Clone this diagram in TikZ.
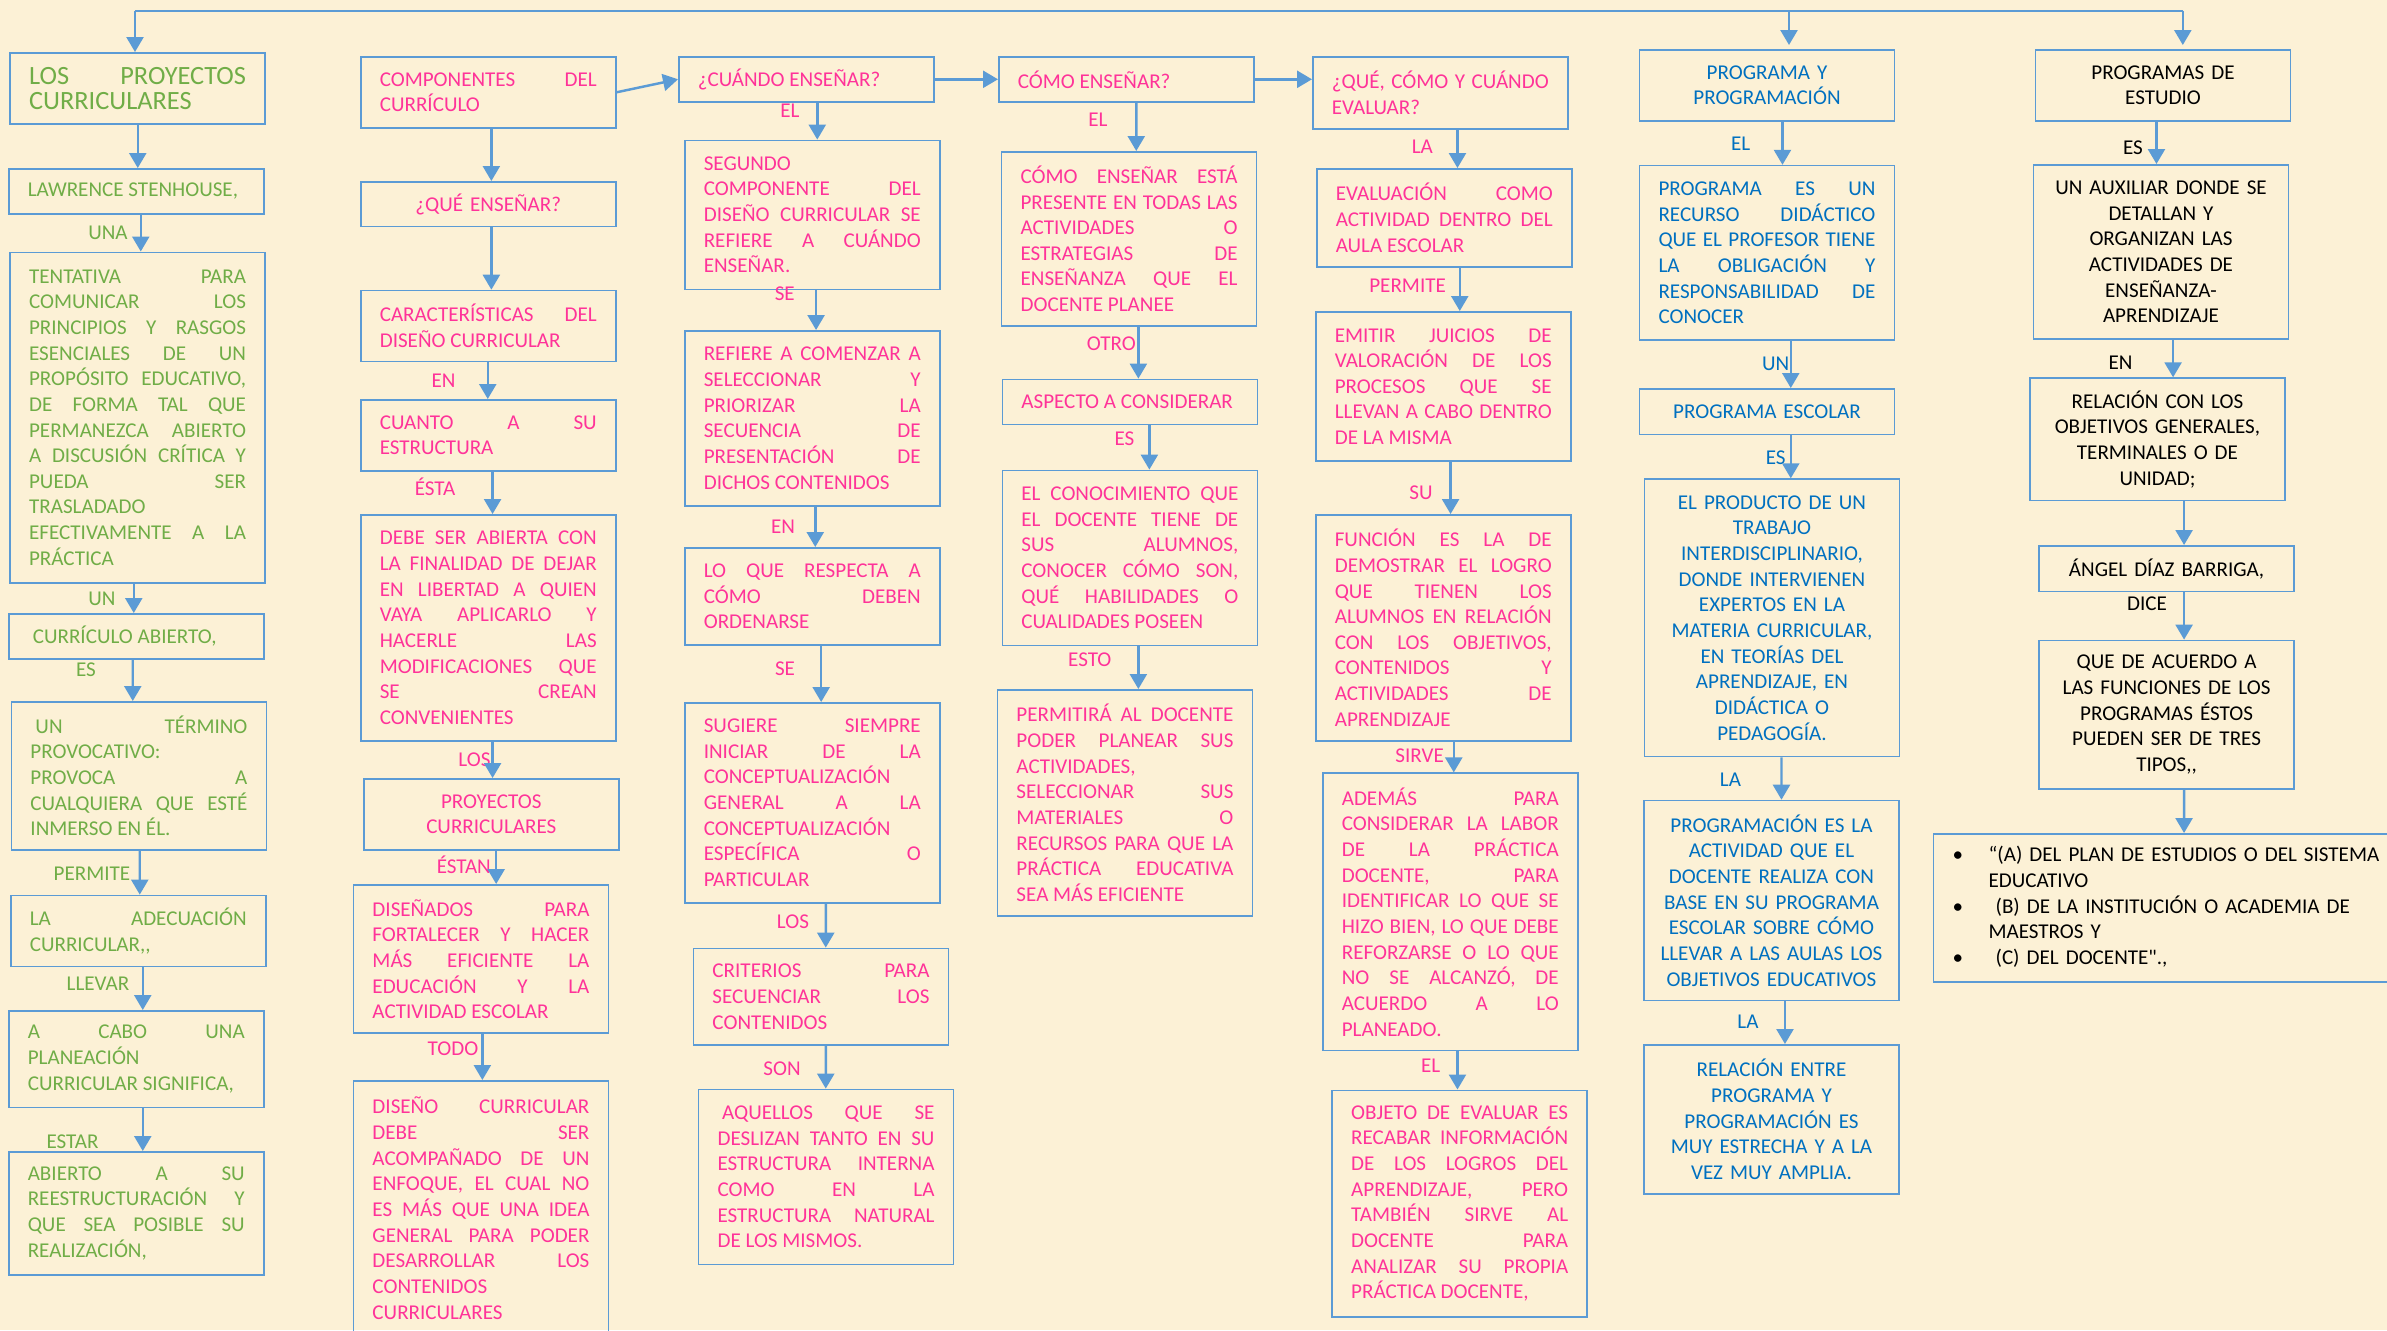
\documentclass[tikz,border=0pt]{standalone}
\usepackage{fontspec}
\setmainfont{Carlito}
\newfontfamily\rawfont[Ligatures=TeXOff]{Carlito}
\usetikzlibrary{arrows.meta,calc}
\definecolor{boxblue}{HTML}{5B9BD5}
\definecolor{txtgreen}{HTML}{70AD47}
\definecolor{txtpink}{HTML}{FF3399}
\definecolor{txtblue}{HTML}{0070C0}
\definecolor{paper}{HTML}{FCF1D6}
\newcommand\mapfont{\fontsize{12}{14.6}\selectfont\hyphenpenalty=10000 \tolerance=10000 }
\newcommand\boxtitlefont{\fontsize{15}{14.5}\selectfont\hyphenpenalty=10000 \tolerance=10000 }
\begin{document}
\begin{tikzpicture}
[x=0.02cm,y=-0.02cm,%
  box/.style={draw=boxblue,line width=0.9pt,anchor=north west,inner xsep=0.38cm,inner ysep=0pt,text width=4.34cm,align=justify,font=\mapfont},%
  gbox/.style={box,text=txtgreen},%
  pbox/.style={box,text=txtpink},%
  bbox/.style={box,text=txtblue,align=center},%
  kbox/.style={box,text=black,align=center},%
  lbl/.style={font=\mapfont,inner sep=0pt,text height=8pt,text depth=0pt},%
  glbl/.style={lbl,text=txtgreen},%
  plbl/.style={lbl,text=txtpink},%
  blbl/.style={lbl,text=txtblue},%
  klbl/.style={lbl,text=black},%
  arr/.style={boxblue,line width=1.4pt,-{Triangle[width=0.34cm,length=0.3cm]}},%
  busline/.style={boxblue,line width=0.8pt}]
\useasboundingbox (0,0) rectangle (2387,1330);
\clip (0,0) rectangle (2387,1330);
\fill[paper] (0,0) rectangle (2387,1330);

\node[gbox,font=\boxtitlefont,minimum height=1.42cm] (a1) at (9.3,52) {LOS PROYECTOS\linebreak CURRICULARES};
\node[gbox,minimum height=0.9cm] (a2) at (8,168) {LAWRENCE STENHOUSE,};
\node[gbox,minimum height=6.61cm] (a3) at (9.3,251.5) {TENTATIVA PARA\linebreak COMUNICAR LOS\linebreak PRINCIPIOS Y RASGOS\linebreak ESENCIALES DE UN\linebreak PROPÓSITO EDUCATIVO,\linebreak DE FORMA TAL QUE\linebreak PERMANEZCA ABIERTO\linebreak A DISCUSIÓN CRÍTICA Y\linebreak PUEDA SER\linebreak TRASLADADO\linebreak EFECTIVAMENTE A LA\linebreak PRÁCTICA};
\node[gbox,minimum height=0.9cm] (a4) at (8,613) {\hspace*{0.1cm}CURRÍCULO ABIERTO,};
\node[gbox,minimum height=2.96cm] (a5) at (10.7,701) {\hspace*{0.1cm}UN TÉRMINO\linebreak PROVOCATIVO:\linebreak PROVOCA A\linebreak CUALQUIERA QUE ESTÉ\linebreak INMERSO EN ÉL.};
\node[gbox,minimum height=1.42cm] (a6) at (10,894.6) {LA ADECUACIÓN\linebreak CURRICULAR,\kern0pt,};
\node[gbox,minimum height=1.93cm] (a7) at (8,1010) {A CABO UNA\linebreak PLANEACIÓN\linebreak CURRICULAR SIGNIFICA,};
\node[gbox,minimum height=2.46cm] (a8) at (8,1151) {ABIERTO A SU\linebreak REESTRUCTURACIÓN Y\linebreak QUE SEA POSIBLE SU\linebreak REALIZACIÓN,};

\node[pbox,minimum height=1.42cm] (b1) at (360,56) {COMPONENTES DEL\linebreak CURRÍCULO};
\node[pbox,align=center,minimum height=0.89cm] (b2) at (360,181) {¿QUÉ ENSEÑAR?};
\node[pbox,minimum height=1.42cm] (b3) at (360,289.7) {CARACTERÍSTICAS DEL\linebreak DISEÑO CURRICULAR};
\node[pbox,minimum height=1.42cm] (b4) at (360,399) {CUANTO A SU\linebreak ESTRUCTURA};
\node[pbox,minimum height=4.52cm] (b5) at (360,514) {DEBE SER ABIERTA CON\linebreak LA FINALIDAD DE DEJAR\linebreak EN LIBERTAD A QUIEN\linebreak VAYA APLICARLO Y\linebreak HACERLE LAS\linebreak MODIFICACIONES QUE\linebreak SE CREAN\linebreak CONVENIENTES};
\node[pbox,align=center,minimum height=1.42cm] (b6) at (363,778) {PROYECTOS\\ CURRICULARES};
\node[pbox,minimum height=2.97cm] (b7) at (352.7,884) {DISEÑADOS PARA\linebreak FORTALECER Y HACER\linebreak MÁS EFICIENTE LA\linebreak EDUCACIÓN Y LA\linebreak ACTIVIDAD ESCOLAR};
\node[pbox,minimum height=5.1cm] (b8) at (352.7,1080) {DISEÑO CURRICULAR\linebreak DEBE SER\linebreak ACOMPAÑADO DE UN\linebreak ENFOQUE, EL CUAL NO\linebreak ES MÁS QUE UNA IDEA\linebreak GENERAL PARA PODER\linebreak DESARROLLAR LOS\linebreak CONTENIDOS\linebreak CURRICULARES};

\node[pbox,minimum height=0.9cm] (c1) at (678,56) {¿CUÁNDO ENSEÑAR?};
\node[pbox,minimum height=2.98cm] (c2) at (684,139.6) {SEGUNDO\linebreak COMPONENTE DEL\linebreak DISEÑO CURRICULAR SE\linebreak REFIERE A CUÁNDO\linebreak ENSEÑAR.};
\node[pbox,minimum height=3.5cm] (c3) at (684,330) {REFIERE A COMENZAR A\linebreak SELECCIONAR Y\linebreak PRIORIZAR LA\linebreak SECUENCIA DE\linebreak PRESENTACIÓN DE\linebreak DICHOS CONTENIDOS};
\node[pbox,minimum height=1.94cm] (c4) at (684,547) {LO QUE RESPECTA A\linebreak CÓMO DEBEN\linebreak ORDENARSE};
\node[pbox,minimum height=4cm] (c5) at (684,702) {SUGIERE SIEMPRE\linebreak INICIAR DE LA\linebreak CONCEPTUALIZACIÓN\linebreak GENERAL A LA\linebreak CONCEPTUALIZACIÓN\linebreak ESPECÍFICA O\linebreak PARTICULAR};
\node[pbox,minimum height=1.93cm] (c6) at (692.7,947.6) {CRITERIOS PARA\linebreak SECUENCIAR LOS\linebreak CONTENIDOS};
\node[pbox,minimum height=3.5cm] (c7) at (697.8,1088.6) {\hspace*{0.09cm}AQUELLOS QUE SE\linebreak DESLIZAN TANTO EN SU\linebreak ESTRUCTURA INTERNA\linebreak COMO EN LA\linebreak ESTRUCTURA NATURAL\linebreak DE LOS MISMOS.};

\node[pbox,minimum height=0.9cm] (d1) at (998,56) {CÓMO ENSEÑAR?};
\node[pbox,minimum height=3.48cm] (d2) at (1000.8,151) {CÓMO ENSEÑAR ESTÁ\linebreak PRESENTE EN TODAS LAS\linebreak ACTIVIDADES O\linebreak ESTRATEGIAS DE\linebreak ENSEÑANZA QUE EL\linebreak DOCENTE PLANEE};
\node[pbox,minimum height=0.9cm] (d3) at (1001.6,378.6) {ASPECTO A CONSIDERAR};
\node[pbox,minimum height=3.5cm] (d4) at (1001.6,469.6) {EL CONOCIMIENTO QUE\linebreak EL DOCENTE TIENE DE\linebreak SUS ALUMNOS,\linebreak CONOCER CÓMO SON,\linebreak QUÉ HABILIDADES O\linebreak CUALIDADES POSEEN};
\node[pbox,minimum height=4.53cm] (d5) at (996.7,689) {PERMITIRÁ AL DOCENTE\linebreak PODER PLANEAR SUS\linebreak ACTIVIDADES,\linebreak SELECCIONAR SUS\linebreak MATERIALES O\linebreak RECURSOS PARA QUE LA\linebreak PRÁCTICA EDUCATIVA\linebreak SEA MÁS EFICIENTE};

\node[pbox,minimum height=1.44cm] (e1) at (1312,56) {¿QUÉ, CÓMO Y CUÁNDO\linebreak EVALUAR?};
\node[pbox,minimum height=1.96cm] (e2) at (1316,168) {EVALUACIÓN COMO\linebreak ACTIVIDAD DENTRO DEL\linebreak AULA ESCOLAR};
\node[pbox,minimum height=2.99cm] (e3) at (1315,311) {EMITIR JUICIOS DE\linebreak VALORACIÓN DE LOS\linebreak PROCESOS QUE SE\linebreak LLEVAN A CABO DENTRO\linebreak DE LA MISMA};
\node[pbox,minimum height=4.52cm] (e4) at (1315,514) {FUNCIÓN ES LA DE\linebreak DEMOSTRAR EL LOGRO\linebreak QUE TIENEN LOS\linebreak ALUMNOS EN RELACIÓN\linebreak CON LOS OBJETIVOS,\linebreak CONTENIDOS Y\linebreak ACTIVIDADES DE\linebreak APRENDIZAJE};
\node[pbox,minimum height=5.55cm] (e5) at (1322,772.4) {ADEMÁS PARA\linebreak CONSIDERAR LA LABOR\linebreak DE LA PRÁCTICA\linebreak DOCENTE, PARA\linebreak IDENTIFICAR LO QUE SE\linebreak HIZO BIEN, LO QUE DEBE\linebreak REFORZARSE O LO QUE\linebreak NO SE ALCANZÓ, DE\linebreak ACUERDO A LO\linebreak PLANEADO.};
\node[pbox,minimum height=4.53cm] (e6) at (1331.4,1089.5) {OBJETO DE EVALUAR ES\linebreak RECABAR INFORMACIÓN\linebreak DE LOS LOGROS DEL\linebreak APRENDIZAJE, PERO\linebreak TAMBIÉN SIRVE AL\linebreak DOCENTE PARA\linebreak ANALIZAR SU PROPIA\linebreak PRÁCTICA DOCENTE,};

\node[bbox,minimum height=1.42cm] (f1) at (1638.7,49) {PROGRAMA Y\\ PROGRAMACIÓN};
\node[bbox,align=justify,minimum height=3.49cm] (f2) at (1638.7,164.8) {PROGRAMA ES UN\linebreak RECURSO DIDÁCTICO\linebreak QUE EL PROFESOR TIENE\linebreak LA OBLIGACIÓN Y\linebreak RESPONSABILIDAD DE\linebreak CONOCER};
\node[bbox,minimum height=0.91cm] (f3) at (1638.7,388) {PROGRAMA ESCOLAR};
\node[bbox,minimum height=5.55cm] (f4) at (1643.7,478.3) {EL PRODUCTO DE UN\\ TRABAJO\\ INTERDISCIPLINARIO,\\ DONDE INTERVIENEN\\ EXPERTOS EN LA\\ MATERIA CURRICULAR,\\ EN TEORÍAS DEL\\ APRENDIZAJE, EN\\ DIDÁCTICA O\\ PEDAGOGÍA.};
\node[bbox,text width=4.6cm,inner xsep=0.25cm,minimum height=4cm] (f5) at (1643.2,799.7) {PROGRAMACIÓN ES LA\\ ACTIVIDAD QUE EL\\ DOCENTE REALIZA CON\\ BASE EN SU PROGRAMA\\ ESCOLAR SOBRE CÓMO\\ LLEVAR A LAS AULAS LOS\\ OBJETIVOS EDUCATIVOS};
\node[bbox,minimum height=2.98cm] (f6) at (1643.2,1044) {RELACIÓN ENTRE\\ PROGRAMA Y\\ PROGRAMACIÓN ES\\ MUY ESTRECHA Y A LA\\ VEZ MUY AMPLIA.};

\node[kbox,minimum height=1.42cm] (g1) at (2034.7,49) {PROGRAMAS DE\\ ESTUDIO};
\node[kbox,minimum height=3.48cm] (g2) at (2032.7,164) {UN AUXILIAR DONDE SE\\ DETALLAN Y\\ ORGANIZAN LAS\\ ACTIVIDADES DE\\ ENSEÑANZA-\\ APRENDIZAJE};
\node[kbox,minimum height=2.45cm] (g3) at (2029.2,377.3) {RELACIÓN CON LOS\\ OBJETIVOS GENERALES,\\ TERMINALES O DE\\ UNIDAD;};
\node[kbox,minimum height=0.91cm] (g4) at (2038.3,545) {ÁNGEL DÍAZ BARRIGA,};
\node[kbox,minimum height=2.97cm] (g5) at (2038.3,639.6) {QUE DE ACUERDO A\\ LAS FUNCIONES DE LOS\\ PROGRAMAS ÉSTOS\\ PUEDEN SER DE TRES\\ TIPOS,\kern0pt,};
\node[box,text=black,align=left,text width=8.78cm,minimum height=2.97cm] (g6) at (1932.8,833) {%
  \begin{tabular}{@{}p{0.72cm}@{}l@{}}
  \textbullet & “(A) DEL PLAN DE ESTUDIOS O DEL SISTEMA\\
  & EDUCATIVO\\
  \textbullet & \ (B) DE LA INSTITUCIÓN O ACADEMIA DE\\
  & MAESTROS Y\\
  \textbullet & \ (C) DEL DOCENTE{\rawfont"}.,
  \end{tabular}};

\node[glbl] (la23) at (108,232) {UNA};
\node[glbl] (la34) at (102,598) {UN};
\node[glbl] (la45) at (86,669) {ES};
\node[glbl] (la56) at (92,873) {PERMITE};
\node[glbl] (la67) at (98,983) {LLEVAR};
\node[glbl] (la78) at (72.5,1141.6) {ESTAR};
\node[plbl] (lb34) at (443.6,380) {EN};
\node[plbl] (lb45) at (435,488) {ÉSTA};
\node[plbl] (lb56) at (474.4,759) {LOS};
\node[plbl] (lb67) at (463.8,866) {ÉSTAN};
\node[plbl] (lb78) at (453,1048) {TODO};
\node[plbl] (lc12) at (790,110.6) {EL};
\node[plbl] (lc23) at (784.8,293.6) {SE};
\node[plbl] (lc34) at (783,526) {EN};
\node[plbl] (lc45) at (785,668.5) {SE};
\node[plbl] (lc56) at (793,921.5) {LOS};
\node[plbl] (lc67) at (782,1068) {SON};
\node[plbl] (ld12) at (1098,119) {EL};
\node[plbl] (ld23) at (1111.4,343.5) {OTRO};
\node[plbl] (ld34) at (1124.5,438) {ES};
\node[plbl] (ld45) at (1089.8,659.6) {ESTO};
\node[plbl] (le12) at (1422.4,146.6) {LA};
\node[plbl] (le23) at (1407.6,285) {PERMITE};
\node[plbl] (le34) at (1421,492) {SU};
\node[plbl] (le45) at (1419.6,755) {SIRVE};
\node[plbl] (le56) at (1430.6,1065) {EL};
\node[blbl] (lf12) at (1740.6,143) {EL};
\node[blbl] (lf23) at (1775.7,363.4) {UN};
\node[blbl] (lf34) at (1775.7,457.5) {ES};
\node[blbl] (lf45) at (1730.5,779.7) {LA};
\node[blbl] (lf56) at (1748,1021) {LA};
\node[klbl] (lg12) at (2133,147.4) {ES};
\node[klbl] (lg23) at (2120.6,362) {EN};
\node[klbl] (lg45) at (2147,603.6) {DICE};

\coordinate (busA) at (135,10.8);
\coordinate (busF) at (1789,10.8);
\coordinate (busG) at (2182.8,10.8);
\draw[busline] (busA) -- (busG);
\draw[arr] (busA) -- (busA |- a1.north);
\draw[arr] (busF) -- ($(busF |- f1.north)+(0,-4)$);
\draw[arr] (busG) -- ($(busG |- g1.north)+(0,-4)$);

\draw[arr] ($(a1.south)+(0.2,0)$) -- ($(a2.north)+(1.5,0)$);
\draw[arr] ($(a2.south)+(4.5,0)$) -- ($(a3.north)+(3.2,0)$);
\draw[arr] ($(a3.south)+(-3.8,0)$) -- ($(a4.north)+(-2.5,0)$);
\draw[arr] ($(a4.south)+(-3.5,0)$) -- ($(a5.north)+(-6.2,0)$);
\draw[arr] ($(a5.south)+(0.8,0)$) -- ($(a6.north)+(1.5,0)$);
\draw[arr] ($(a6.south)+(4.5,0)$) -- ($(a7.north)+(6.5,0)$);
\draw[arr] ($(a7.south)+(6.5,0)$) -- ($(a8.north)+(6.5,0)$);

\draw[arr] (b1.east) -- (c1.west);
\draw[arr] (c1.east) -- (d1.west);
\draw[arr] (d1.east) -- (d1.east -| e1.west);

\draw[arr] ($(b1.south)+(3.1,0)$) -- ($(b2.north)+(3.1,0)$);
\draw[arr] ($(b2.south)+(3.1,0)$) -- ($(b3.north)+(3.1,0)$);
\draw[arr] ($(b3.south)+(-0.5,0)$) -- ($(b4.north)+(-0.5,0)$);
\draw[arr] ($(b4.south)+(4.3,0)$) -- ($(b5.north)+(4.3,0)$);
\draw[arr] ($(b5.south)+(4.3,0)$) -- ($(b6.north)+(1.3,0)$);
\draw[arr] ($(b6.south)+(4.9,0)$) -- ($(b7.north)+(15.2,0)$);
\draw[arr] ($(b7.south)+(1.4,0)$) -- ($(b8.north)+(1.4,0)$);

\draw[arr] ($(c1.south)+(11,0)$) -- ($(c2.north)+(5,0)$);
\draw[arr] ($(c2.south)+(3.8,0)$) -- ($(c3.north)+(3.8,0)$);
\draw[arr] ($(c3.south)+(3,0)$) -- ($(c4.north)+(3,0)$);
\draw[arr] ($(c4.south)+(8.9,0)$) -- ($(c5.north)+(8.9,0)$);
\draw[arr] ($(c5.south)+(13.5,0)$) -- ($(c6.north)+(4.8,0)$);
\draw[arr] ($(c6.south)+(4.8,0)$) -- ($(c7.north)+(-0.3,0)$);

\draw[arr] ($(d1.south)+(10,0)$) -- ($(d2.north)+(7.2,0)$);
\draw[arr] ($(d2.south)+(9.3,0)$) -- ($(d3.north)+(8.5,0)$);
\draw[arr] ($(d3.south)+(19.5,0)$) -- ($(d4.north)+(19.5,0)$);
\draw[arr] ($(d4.south)+(8.5,0)$) -- ($(d5.north)+(13.4,0)$);

\draw[arr] ($(e1.south)+(17.2,0)$) -- ($(e2.north)+(13.2,0)$);
\draw[arr] ($(e2.south)+(15.5,0)$) -- ($(e3.north)+(16.5,0)$);
\draw[arr] ($(e3.south)+(7.3,0)$) -- ($(e4.north)+(7.3,0)$);
\draw[arr] ($(e4.south)+(10.5,0)$) -- ($(e5.north)+(3.5,0)$);
\draw[arr] ($(e5.south)+(7.2,0)$) -- ($(e6.north)+(-2.2,0)$);

\draw[arr] ($(f1.south)+(15.5,0)$) -- ($(f2.north)+(15.5,0)$);
\draw[arr] ($(f2.south)+(23.8,0)$) -- ($(f3.north)+(23.8,0)$);
\draw[arr] ($(f3.south)+(23.8,0)$) -- ($(f4.north)+(18.8,0)$);
\draw[arr] ($(f4.south)+(9.5,0)$) -- ($(f5.north)+(10,0)$);
\draw[arr] ($(f5.south)+(13.5,0)$) -- ($(f6.north)+(13.5,0)$);

\draw[arr] ($(g1.south)+(-6.5,0)$) -- ($(g2.north)+(-4.5,0)$);
\draw[arr] ($(g2.south)+(12.1,0)$) -- ($(g3.north)+(15.6,0)$);
\draw[arr] ($(g3.south)+(26.6,0)$) -- ($(g4.north)+(17.5,0)$);
\draw[arr] ($(g4.south)+(17.5,0)$) -- ($(g5.north)+(17.5,0)$);
\draw[arr] ($(g5.south)+(17.5,0)$) -- ($(g6.north)+(12,0)$);
\end{tikzpicture}
\end{document}
